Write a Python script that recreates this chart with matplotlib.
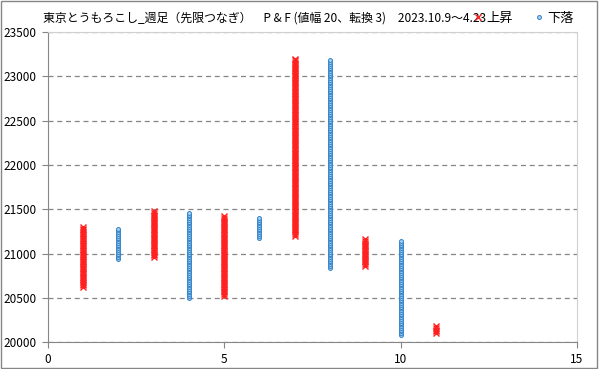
import numpy as np
import matplotlib
matplotlib.use("Agg")
import matplotlib.pyplot as plt
from matplotlib.patches import Rectangle

plt.rcParams['font.family'] = ['Noto Sans CJK JP', 'DejaVu Sans']

# P&F columns (box size 20, reversal 3)
box = 20
up_cols = [1, 3, 5, 7, 9, 11]
up_low = [20620, 20960, 20520, 21200, 20860, 20100]
up_high = [21300, 21480, 21420, 23200, 21160, 20180]
down_cols = [2, 4, 6, 8, 10]
down_low = [20940, 20500, 21180, 20840, 20080]
down_high = [21280, 21460, 21400, 23180, 21140]

title = "東京とうもろこし_週足（先限つなぎ）　P & F (値幅 20、転換 3)　2023.10.9～4.23"


def expand(cols, lows, highs):
    xs, ys = [], []
    for c, lo, hi in zip(cols, lows, highs):
        vals = np.arange(lo, hi + box / 2, box)
        xs.extend([c] * len(vals))
        ys.extend(vals)
    return xs, ys


fig = plt.figure(figsize=(5.99, 3.69), dpi=100)
ax = fig.add_axes([0.080, 0.073, 0.883, 0.840])

ux, uy = expand(up_cols, up_low, up_high)
dx, dy = expand(down_cols, down_low, down_high)
ax.plot(ux, uy, linestyle="none", marker="x", markersize=4.5,
        markeredgewidth=1.0, color="#ff2020", label="上昇")
ax.plot(dx, dy, linestyle="none", marker="o", markersize=2.8,
        markeredgewidth=0.7, markeredgecolor="#2e7fc8",
        markerfacecolor="#a8d4f4", label="下落")

ax.set_xlim(0, 15)
ax.set_ylim(20000, 23500)
ax.set_xticks([0, 5, 10, 15])
ax.set_yticks(np.arange(20000, 23501, 500))
ax.tick_params(labelsize=8.5, length=4, width=0.8, color="#868686",
               direction="out", pad=4)
ax.grid(axis="y", linestyle=(0, (4, 3)), color="#868686", linewidth=0.9)
for s in ax.spines.values():
    s.set_color("#868686")
    s.set_linewidth(0.8)
ax.spines['top'].set_color("#d0d0d0")
ax.spines['right'].set_color("#d0d0d0")

fig.text(0.072, 0.951, title, fontsize=8.6, va="center", ha="left")
fig.legend(loc="center left", bbox_to_anchor=(0.783, 0.951), ncol=2,
           frameon=False, fontsize=9.5, handlelength=0.6, handletextpad=0.3,
           columnspacing=1.7, markerscale=1.0, borderaxespad=0.0)

fig.patches.append(Rectangle((0.002, 0.003), 0.995, 0.994, transform=fig.transFigure,
                             fill=False, edgecolor="#868686", linewidth=1.0))

fig.savefig("out.png", dpi=100)
